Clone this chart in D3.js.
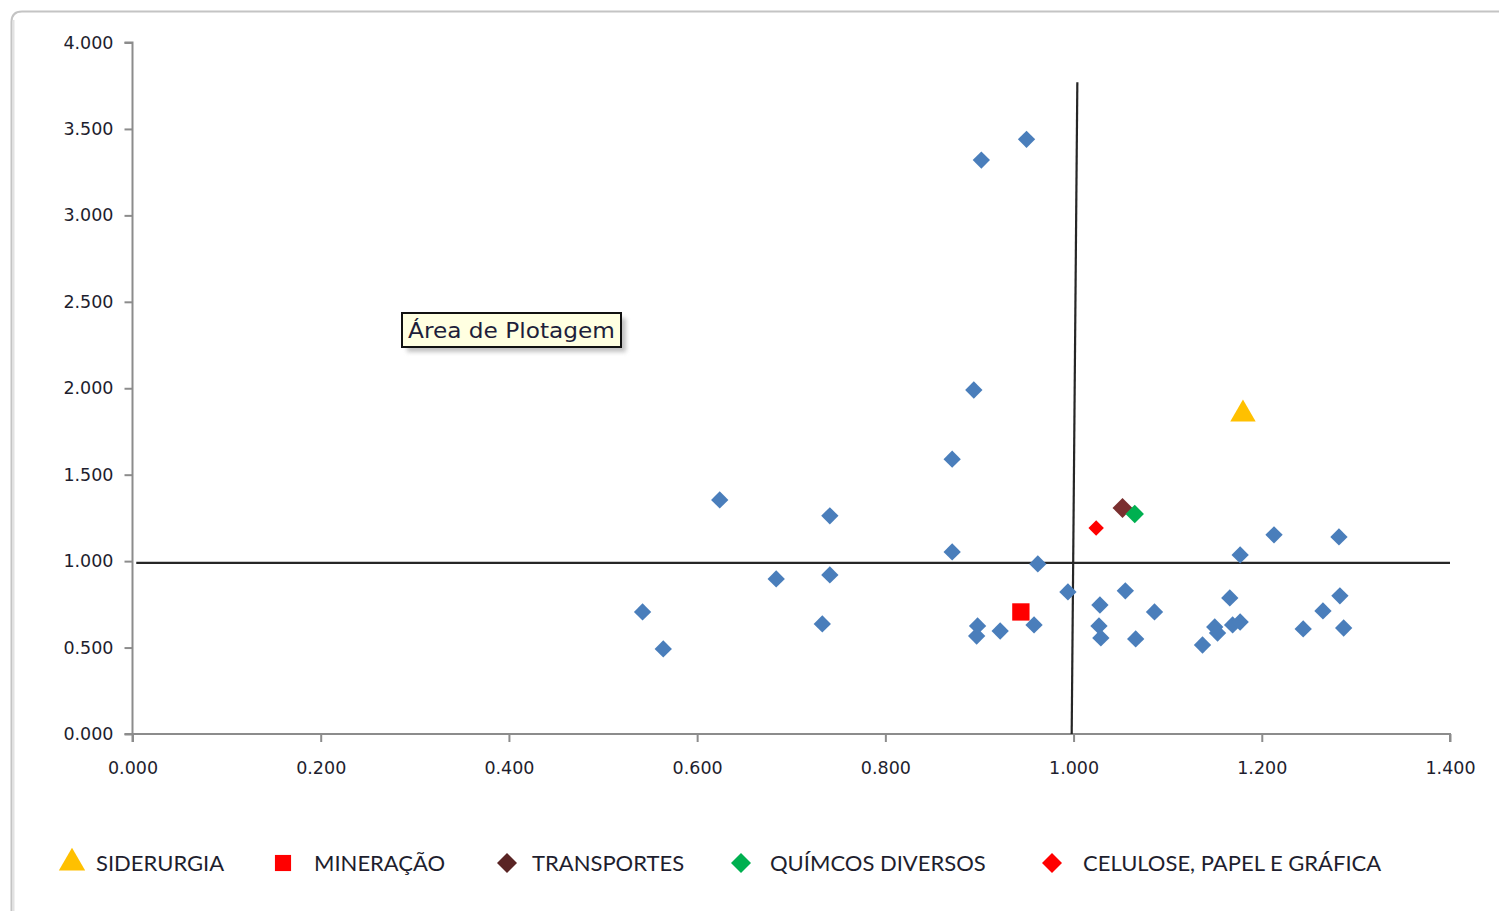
<!DOCTYPE html>
<html><head><meta charset="utf-8">
<script src="https://cdn.jsdelivr.net/npm/d3@7"></script>
<style>
html,body{margin:0;padding:0;background:#fff;}
svg{display:block;}
</style></head>
<body>
<svg id="chart" width="1499" height="911"></svg>
<script>
// ---- data ----
const xTicks = [0, 0.2, 0.4, 0.6, 0.8, 1.0, 1.2, 1.4];
const yTicks = [0, 0.5, 1.0, 1.5, 2.0, 2.5, 3.0, 3.5, 4.0];

// other sectors (blue diamonds)
const otherX = [0.950, 0.902, 0.894, 0.871, 0.624, 0.741, 0.871, 0.962, 0.684, 0.741,
                0.542, 0.564, 0.733, 0.898, 0.897, 0.922, 0.958, 0.994, 1.028, 1.027,
                1.029, 1.055, 1.066, 1.086, 1.177, 1.213, 1.282, 1.166, 1.137, 1.150,
                1.153, 1.169, 1.177, 1.244, 1.265, 1.283, 1.287];
const otherY = [3.44, 3.32, 1.99, 1.59, 1.354, 1.262, 1.053, 0.984, 0.897, 0.920,
                0.706, 0.492, 0.637, 0.625, 0.567, 0.596, 0.631, 0.822, 0.746, 0.625,
                0.556, 0.828, 0.550, 0.706, 1.036, 1.152, 1.140, 0.787, 0.515, 0.619,
                0.584, 0.631, 0.648, 0.608, 0.712, 0.799, 0.613];

// highlighted sectors
const seriesNames  = ["SIDERURGIA", "MINERAÇÃO", "TRANSPORTES", "QUÍMCOS DIVERSOS", "CELULOSE, PAPEL E GRÁFICA"];
const seriesX      = [1.180, 0.944, 1.052, 1.065, 1.024];
const seriesY      = [1.850, 0.706, 1.308, 1.273, 1.192];
const seriesShape  = ["triangle", "square", "diamond", "diamond", "diamond"];
const seriesColor  = ["#ffc000", "#ff0000", "#7a2f2f", "#00b050", "#ff0000"];
const seriesSize   = [280, 300, 200, 170, 120];

// reference lines (quadrant dividers)
const hLineX = [0.004, 1.40];
const hLineY = [0.99, 0.99];
const vLineX = [1.004, 0.998];
const vLineY = [3.77, 0.0];

const annotation = "Área de Plotagem";

// ---- layout ----
const svg = d3.select("#chart");
const x = d3.scaleLinear().domain([0, 1.4]).range([132.5, 1450]);
const y = d3.scaleLinear().domain([0, 4]).range([734, 42.5]);
const fmt = d3.format(".3f");

// chart frame
svg.append("path")
  .attr("d", "M11.5,911 L11.5,22 Q11.5,11.5 22,11.5 L1499,11.5")
  .attr("fill", "none").attr("stroke", "#c4c4c4").attr("stroke-width", 2);
svg.append("line").attr("x1", 13.5).attr("x2", 13.5).attr("y1", 20).attr("y2", 911)
  .attr("stroke", "#e2e2e2").attr("stroke-width", 2);

// axes
const gy = svg.append("g").attr("transform", `translate(${x(0)},0)`)
  .call(d3.axisLeft(y).tickValues(yTicks).tickFormat(fmt).tickSize(8).tickPadding(11));
const gx = svg.append("g").attr("transform", `translate(0,${y(0)})`)
  .call(d3.axisBottom(x).tickValues(xTicks).tickFormat(fmt).tickSize(8).tickPadding(20));
[gx, gy].forEach(g => {
  g.select(".domain").attr("stroke", "#8c8c8c").attr("stroke-width", 2);
  g.selectAll(".tick line").attr("stroke", "#8c8c8c").attr("stroke-width", 2);
  g.selectAll(".tick text").attr("fill", "#1e1e2e")
    .style("font-family", "'DejaVu Sans', Verdana, sans-serif").style("font-size", "17.5px");
});
gy.select(".domain").attr("d", `M-8,${y(4)}H0V${y(0)}H-8`);
gx.select(".domain").attr("d", `M${x(0)},8V0H${x(1.4)}V8`);

// reference lines
const line = d3.line().x(d => x(d[0])).y(d => y(d[1]));
svg.append("path").datum(d3.zip(hLineX, hLineY)).attr("d", line)
  .attr("stroke", "#262626").attr("stroke-width", 2.2).attr("fill", "none");
svg.append("path").datum(d3.zip(vLineX, vLineY)).attr("d", line)
  .attr("stroke", "#262626").attr("stroke-width", 2.2).attr("fill", "none");

// other points
const diamond = d3.symbol().type(d3.symbolSquare).size(150);
svg.append("g").selectAll("path").data(d3.zip(otherX, otherY)).join("path")
  .attr("d", diamond)
  .attr("transform", d => `translate(${x(d[0])},${y(d[1])}) rotate(45)`)
  .attr("fill", "#4a7ebb");

// highlighted series
function symPath(shape, size) {
  if (shape === "triangle") return d3.symbol().type(d3.symbolTriangle).size(size)();
  return d3.symbol().type(d3.symbolSquare).size(size)();
}
seriesNames.forEach((n, i) => {
  const rot = seriesShape[i] === "diamond" ? 45 : 0;
  svg.append("path").attr("d", symPath(seriesShape[i], seriesSize[i]))
    .attr("transform", `translate(${x(seriesX[i])},${y(seriesY[i])}) rotate(${rot})`)
    .attr("fill", seriesColor[i]);
});

// annotation box
const ag = svg.append("g").attr("transform", "translate(402,313)");
ag.append("rect").attr("x", 5).attr("y", 5).attr("width", 219).attr("height", 34)
  .attr("fill", "#9a9a9a").attr("opacity", 0.6).style("filter", "blur(2px)");
ag.append("rect").attr("x", 0).attr("y", 0).attr("width", 219).attr("height", 34)
  .attr("fill", "#ffffe1").attr("stroke", "#111").attr("stroke-width", 2);
ag.append("text").attr("x", 6).attr("y", 25).text(annotation)
  .attr("fill", "#1e1e3a").attr("textLength", 207).attr("lengthAdjust", "spacingAndGlyphs")
  .style("font-family", "'DejaVu Sans', Verdana, sans-serif").style("font-size", "22px");

// legend
const legX = [72, 283, 507, 741, 1052];
const legTextX = [96, 314, 532, 770, 1083];
const legY = 863;
const legSize = [300, 260, 200, 200, 200];
seriesNames.forEach((n, i) => {
  const rot = seriesShape[i] === "diamond" ? 45 : 0;
  svg.append("path").attr("d", symPath(seriesShape[i], legSize[i]))
    .attr("transform", `translate(${legX[i]},${legY}) rotate(${rot})`)
    .attr("fill", i === 2 ? "#5a2424" : seriesColor[i]);
  svg.append("text").attr("x", legTextX[i]).attr("y", legY + 8).text(n)
    .attr("fill", "#1e1e2e")
    .style("font-family", "Lato, 'Open Sans', sans-serif").style("font-size", "22px");
});
</script>
</body></html>
